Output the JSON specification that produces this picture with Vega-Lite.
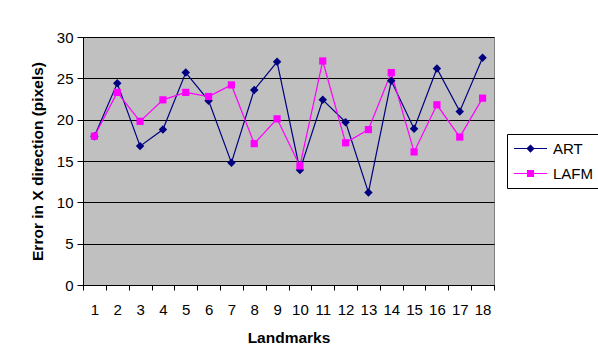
{
  "$schema": "https://vega.github.io/schema/vega-lite/v6.json",
  "autosize": "none",
  "width": 411,
  "height": 248,
  "padding": {"left": 83, "top": 37, "right": 104, "bottom": 75},
  "background": "white",
  "config": {
    "font": "Liberation Sans",
    "view": {"fill": "#C0C0C0", "stroke": "#808080", "strokeWidth": 1},
    "axis": {
      "labelFont": "Liberation Sans",
      "titleFont": "Liberation Sans",
      "labelColor": "black",
      "titleColor": "black",
      "domainColor": "black",
      "tickColor": "black",
      "labelFontSize": 15,
      "titleFontSize": 15.5,
      "titleFontWeight": "bold"
    },
    "legend": {"labelFont": "Liberation Sans", "labelFontSize": 15, "labelColor": "black"}
  },
  "data": {
    "values": [
      {"landmark": 1, "series": "ART", "error": 18.0},
      {"landmark": 2, "series": "ART", "error": 24.4},
      {"landmark": 3, "series": "ART", "error": 16.8},
      {"landmark": 4, "series": "ART", "error": 18.8},
      {"landmark": 5, "series": "ART", "error": 25.7},
      {"landmark": 6, "series": "ART", "error": 22.3},
      {"landmark": 7, "series": "ART", "error": 14.8},
      {"landmark": 8, "series": "ART", "error": 23.6},
      {"landmark": 9, "series": "ART", "error": 27.0},
      {"landmark": 10, "series": "ART", "error": 13.9},
      {"landmark": 11, "series": "ART", "error": 22.4},
      {"landmark": 12, "series": "ART", "error": 19.7},
      {"landmark": 13, "series": "ART", "error": 11.2},
      {"landmark": 14, "series": "ART", "error": 24.7},
      {"landmark": 15, "series": "ART", "error": 18.9},
      {"landmark": 16, "series": "ART", "error": 26.2},
      {"landmark": 17, "series": "ART", "error": 21.0},
      {"landmark": 18, "series": "ART", "error": 27.5},
      {"landmark": 1, "series": "LAFM", "error": 18.0},
      {"landmark": 2, "series": "LAFM", "error": 23.3},
      {"landmark": 3, "series": "LAFM", "error": 19.8},
      {"landmark": 4, "series": "LAFM", "error": 22.4},
      {"landmark": 5, "series": "LAFM", "error": 23.3},
      {"landmark": 6, "series": "LAFM", "error": 22.8},
      {"landmark": 7, "series": "LAFM", "error": 24.2},
      {"landmark": 8, "series": "LAFM", "error": 17.1},
      {"landmark": 9, "series": "LAFM", "error": 20.1},
      {"landmark": 10, "series": "LAFM", "error": 14.4},
      {"landmark": 11, "series": "LAFM", "error": 27.1},
      {"landmark": 12, "series": "LAFM", "error": 17.2},
      {"landmark": 13, "series": "LAFM", "error": 18.8},
      {"landmark": 14, "series": "LAFM", "error": 25.7},
      {"landmark": 15, "series": "LAFM", "error": 16.1},
      {"landmark": 16, "series": "LAFM", "error": 21.8},
      {"landmark": 17, "series": "LAFM", "error": 17.9},
      {"landmark": 18, "series": "LAFM", "error": 22.6}
    ]
  },
  "encoding": {
    "x": {
      "field": "landmark",
      "type": "ordinal",
      "scale": {"type": "band", "paddingInner": 0, "paddingOuter": 0},
      "axis": {
        "title": "Landmarks",
        "labelAngle": 0,
        "tickBand": "extent",
        "tickSize": 5,
        "labelPadding": 12,
        "titlePadding": 13,
        "grid": false
      }
    },
    "y": {
      "field": "error",
      "type": "quantitative",
      "scale": {"domain": [0, 30], "nice": false},
      "axis": {
        "title": "Error in X direction (pixels)",
        "values": [0, 5, 10, 15, 20, 25, 30],
        "tickSize": 6,
        "labelPadding": 4,
        "titlePadding": 11,
        "grid": true,
        "gridColor": "black",
        "gridWidth": 1,
        "gridOpacity": 1
      }
    }
  },
  "resolve": {"scale": {"color": "independent", "shape": "independent"}, "legend": {"color": "independent", "shape": "independent"}},
  "layer": [
    {
      "mark": {"type": "line", "strokeWidth": 1.2},
      "encoding": {
        "color": {
          "field": "series",
          "type": "nominal",
          "scale": {"domain": ["ART", "LAFM"], "range": ["#000080", "#FF00FF"]},
          "legend": null
        }
      }
    },
    {
      "mark": {"type": "point", "filled": true, "opacity": 1},
      "encoding": {
        "color": {
          "field": "series",
          "type": "nominal",
          "scale": {"domain": ["ART", "LAFM"], "range": ["#000080", "#FF00FF"]},
          "legend": null
        },
        "shape": {
          "field": "series",
          "type": "nominal",
          "scale": {"domain": ["ART", "LAFM"], "range": ["diamond", "square"]},
          "legend": null
        },
        "size": {
          "field": "series",
          "type": "nominal",
          "scale": {"domain": ["ART", "LAFM"], "range": [72, 52]},
          "legend": null
        }
      }
    },
    {
      "mark": {"type": "point", "filled": true, "opacity": 0},
      "encoding": {
        "color": {
          "field": "series",
          "type": "nominal",
          "scale": {"domain": ["ART", "LAFM"], "range": ["#000080", "#FF00FF"]},
          "legend": {
            "title": null,
            "orient": "none",
            "legendX": 424,
            "legendY": 97,
            "padding": 6,
            "rowPadding": 8,
            "symbolSize": 225,
            "symbolOpacity": 1,
            "labelOffset": 23,
            "strokeColor": "black",
            "fillColor": "white"
          }
        },
        "shape": {
          "field": "series",
          "type": "nominal",
          "scale": {
            "domain": ["ART", "LAFM"],
            "range": [
              "M-1,-0.07H3.4V0.07H-1ZM1.2,-0.55L1.75,0L1.2,0.55L0.65,0Z",
              "M-1,-0.07H3.4V0.07H-1ZM0.73,-0.47H1.67V0.47H0.73Z"
            ]
          },
          "legend": {
            "title": null,
            "orient": "none",
            "legendX": 424,
            "legendY": 97,
            "padding": 6,
            "rowPadding": 8,
            "symbolSize": 225,
            "symbolOpacity": 1,
            "labelOffset": 23,
            "strokeColor": "black",
            "fillColor": "white"
          }
        }
      }
    }
  ]
}
